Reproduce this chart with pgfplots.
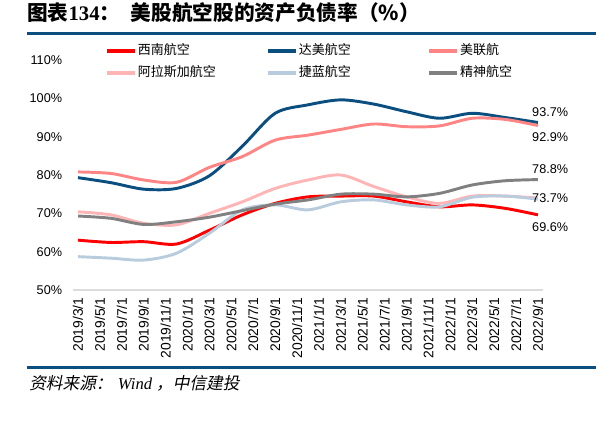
\documentclass[border=0pt]{standalone}
\usepackage{pgfplots}
\pgfplotsset{compat=1.18}
\usepackage{fontspec}
\setmainfont{Liberation Sans}
\newfontfamily\cjk{Noto Sans CJK SC}
\newfontfamily\cjkit{Noto Sans CJK SC}[FakeSlant=0.2]
\newfontfamily\serif{Liberation Serif}
\definecolor{dkblue}{HTML}{0B4F80}
\definecolor{cRed}{HTML}{FF0000}
\definecolor{cUA}{HTML}{FF8585}
\definecolor{cAK}{HTML}{FFB5B5}
\definecolor{cJB}{HTML}{B9CCDD}
\definecolor{cSP}{HTML}{808080}
\definecolor{axgray}{HTML}{DCDCDC}
\begin{document}
\begin{tikzpicture}
\path (0pt,0pt) rectangle (447pt,330.75pt);
% title and rules (1 px = 0.75pt, y from bottom)
\node[anchor=base west, inner sep=0pt] at (20.25pt,315pt) {\fontsize{15.5}{18}\selectfont{\cjk\bfseries 图表}{\serif\bfseries 134}{\cjk\bfseries ：\hspace{8pt}美股航空股的资产负债率（\%）}};
\node[fill=dkblue, inner sep=0pt, outer sep=0pt, minimum width=426.75pt, minimum height=2.6pt, anchor=west] at (20.25pt,305.6pt) {};
\node[fill=dkblue, inner sep=0pt, outer sep=0pt, minimum width=426.75pt, minimum height=2.2pt, anchor=west] at (20.25pt,55.2pt) {};
\node[anchor=base west, inner sep=0pt] at (21.75pt,38.25pt) {\fontsize{12.5}{14}\selectfont{\cjkit 资料来源：}\hspace{4pt}{\serif\itshape Wind}\hspace{3pt}{\cjkit ，中信建投}};
\begin{axis}[
  at={(54.75pt,113.25pt)}, anchor=south west,
  scale only axis, width=352.5pt, height=172.5pt,
  xmin=-0.46, xmax=42.46, ymin=50, ymax=110,
  axis x line*=bottom, axis y line*=left,
  x axis line style={draw=axgray, line width=1.5pt},
  y axis line style={draw=none},
  major tick length=0pt,
  /pgf/number format/assume math mode=true,
  ytick={50,60,...,110},
  yticklabel={\pgfmathprintnumber{\tick}\%},
  yticklabel style={font=\fontsize{9.5}{11}\selectfont, inner sep=0pt, xshift=-8pt},
  xtick={0,2,...,42},
  xticklabels={2019/3/1,2019/5/1,2019/7/1,2019/9/1,2019/11/1,2020/1/1,2020/3/1,2020/5/1,2020/7/1,2020/9/1,2020/11/1,2021/1/1,2021/3/1,2021/5/1,2021/7/1,2021/9/1,2021/11/1,2022/1/1,2022/3/1,2022/5/1,2022/7/1,2022/9/1},
  xticklabel style={yshift=-5.5pt, rotate=90, anchor=east, font=\fontsize{10.4}{12}\selectfont, inner sep=0pt},
  legend columns=3,
  legend cell align=left,
  legend image code/.code={\draw[#1, line width=2.4pt] (0pt,0pt) -- (21pt,0pt);},
  legend style={at={(0.0595,1.084)}, anchor=north west, draw=none, fill=none,
    nodes={inner sep=0pt, text height=8pt, text depth=3pt, font=\fontsize{9.75}{11}\selectfont},
    row sep=5.5pt, column sep=0pt},
  every axis plot/.append style={line width=2.2pt, smooth},
  clip=false,
]
\addplot[cRed] coordinates {(0,63.0)(3,62.4)(6,62.6)(9,62.0)(12,65.6)(15,69.6)(18,72.6)(21,74.3)(24,74.5)(27,74.5)(30,73.0)(33,71.7)(36,72.2)(39,71.3)(42,69.6)};
\addlegendentry{\makebox[97.5pt][l]{\hspace{1pt}\cjk 西南航空}}
\addplot[dkblue] coordinates {(0,79.3)(3,78.0)(6,76.3)(9,76.5)(12,79.8)(15,87.5)(18,96.1)(21,98.3)(24,99.6)(27,98.5)(30,96.5)(33,94.8)(36,96.1)(39,95.0)(42,93.7)};
\addlegendentry{\makebox[97.5pt][l]{\hspace{1pt}\cjk 达美航空}}
\addplot[cUA] coordinates {(0,80.8)(3,80.4)(6,78.7)(9,78.1)(12,82.0)(15,84.8)(18,89.1)(21,90.4)(24,91.9)(27,93.3)(30,92.6)(33,92.8)(36,94.8)(39,94.5)(42,92.9)};
\addlegendentry{\makebox[97.5pt][l]{\hspace{1pt}\cjk 美联航}}
\addplot[cAK] coordinates {(0,70.4)(3,69.6)(6,67.4)(9,67.0)(12,70.0)(15,73.0)(18,76.5)(21,78.7)(24,80.0)(27,77.0)(30,74.3)(33,72.6)(36,74.5)(39,74.5)(42,74.0)};
\addlegendentry{\makebox[97.5pt][l]{\hspace{1pt}\cjk 阿拉斯加航空}}
\addplot[cJB] coordinates {(0,58.7)(3,58.3)(6,57.8)(9,59.6)(12,64.8)(15,70.9)(18,72.2)(21,70.9)(24,73.0)(27,73.5)(30,72.2)(33,71.7)(36,74.2)(39,74.5)(42,73.7)};
\addlegendentry{\makebox[97.5pt][l]{\hspace{1pt}\cjk 捷蓝航空}}
\addplot[cSP] coordinates {(0,69.3)(3,68.7)(6,67.1)(9,67.8)(12,69.0)(15,70.7)(18,72.4)(21,73.5)(24,75.0)(27,75.0)(30,74.3)(33,75.2)(36,77.4)(39,78.5)(42,78.8)};
\addlegendentry{\makebox[97.5pt][l]{\hspace{1pt}\cjk 精神航空}}
\begin{scope}[every node/.style={anchor=west, inner sep=0pt, font=\fontsize{9.5}{11}\selectfont}]
\node[xshift=-4.5pt, yshift=8.1pt] at (axis cs:42,93.7) {93.7\%};
\node[xshift=-4.5pt, yshift=-8.6pt] at (axis cs:42,92.9) {92.9\%};
\node[xshift=-4.5pt, yshift=8pt] at (axis cs:42,78.8) {78.8\%};
\node[xshift=-4.5pt, yshift=0.8pt] at (axis cs:42,73.7) {73.7\%};
\node[xshift=-4.5pt, yshift=-9.5pt] at (axis cs:42,69.6) {69.6\%};
\end{scope}
\end{axis}
\end{tikzpicture}
\end{document}
